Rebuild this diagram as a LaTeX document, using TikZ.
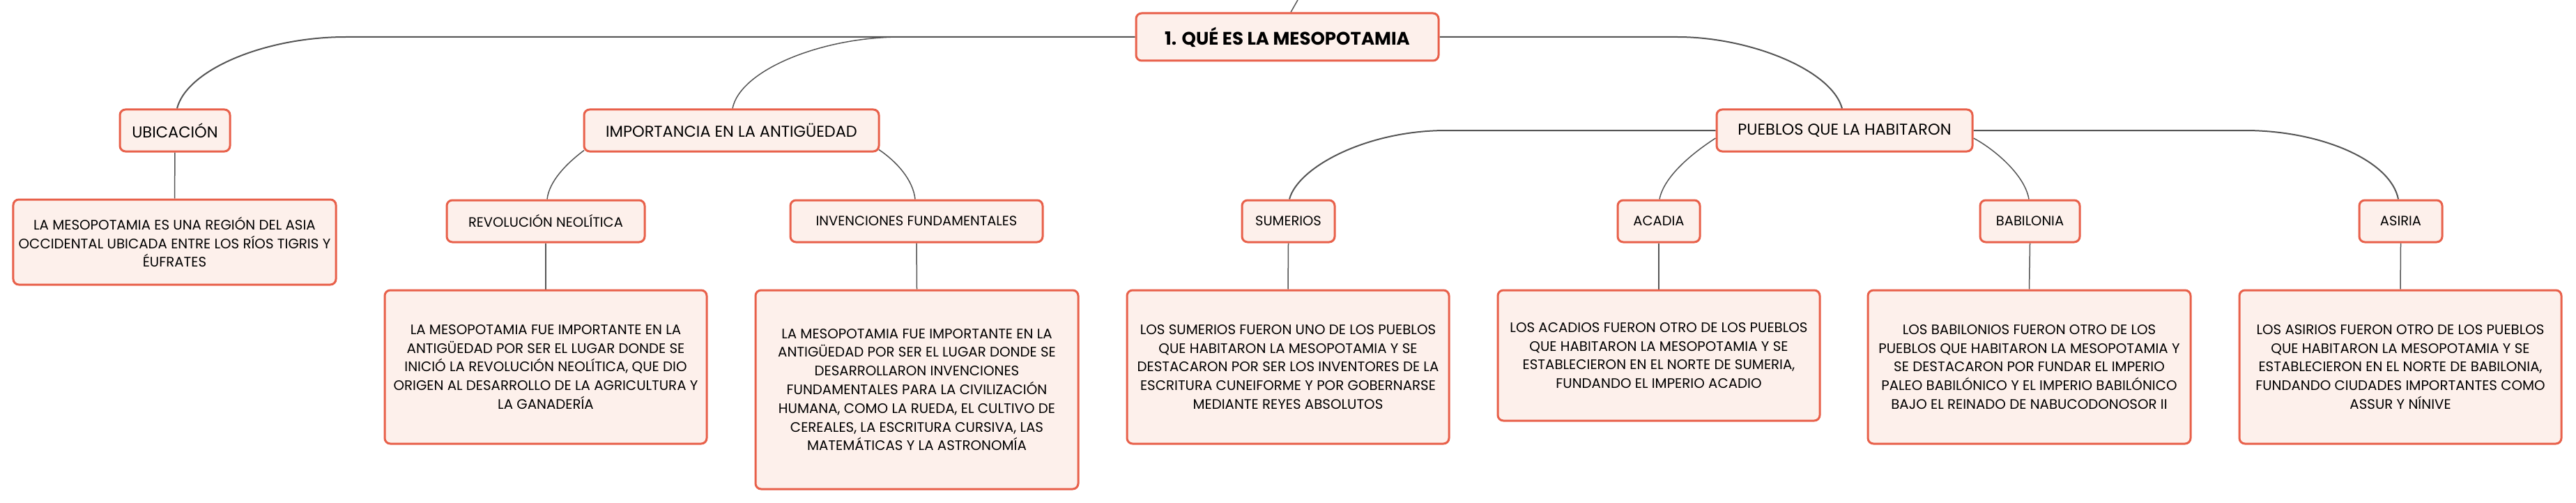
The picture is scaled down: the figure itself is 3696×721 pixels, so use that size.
\documentclass[tikz,border=0pt]{standalone}
\usepackage{fontspec}
\setmainfont{Poppins}
\usetikzlibrary{calc,backgrounds}
\definecolor{bordc}{HTML}{E8604A}
\definecolor{fillc}{HTML}{FDF0EB}
\definecolor{linec}{HTML}{555555}
\tikzset{
  box/.style={draw=bordc, fill=fillc, line width=3bp, rounded corners=8bp,
    align=center, inner sep=0pt, text=black,
    font=\fontsize{19.8bp}{26.8bp}\selectfont},
  lab/.style={box, minimum height=60bp, font=\fontsize{19.5bp}{24bp}\selectfont},
  labone/.style={lab, font=\fontsize{22.5bp}{26bp}\selectfont},
  detail/.style={box, minimum width=462bp},
  conn/.style={draw=linec, line width=1.5bp},
  trunk/.style={draw=linec, line width=2bp},
}
\begin{document}
\begin{tikzpicture}[x=1bp,y=-1bp]
\useasboundingbox (0,0) rectangle (3696,721);
% root
\node[box, minimum width=434bp, minimum height=68bp,
  font=\bfseries\fontsize{26bp}{30bp}\selectfont] (root) at (1847,53) {1. QUÉ ES LA MESOPOTAMIA};
% level 1
\node[labone, minimum width=158bp] (ubic) at (251,187) {UBICACIÓN};
\node[labone, minimum width=423bp] (impo) at (1049.5,187) {IMPORTANCIA EN LA ANTIGÜEDAD};
\node[labone, minimum width=367bp] (pueb) at (2646.5,187) {PUEBLOS QUE LA HABITARON};
% level 2
\node[lab, minimum width=284bp] (revo) at (783,317) {REVOLUCIÓN NEOLÍTICA};
\node[lab, minimum width=362bp] (inve) at (1315,317) {INVENCIONES FUNDAMENTALES};
\node[lab, minimum width=133bp] (sume) at (1848.5,317) {SUMERIOS};
\node[lab, minimum width=118bp] (acad) at (2380,317) {ACADIA};
\node[lab, minimum width=143bp] (babi) at (2912.5,317) {BABILONIA};
\node[lab, minimum width=119bp] (asir) at (3444.5,317) {ASIRIA};
% details
\node[detail, minimum width=463bp, minimum height=122bp] (ubicD) at (250.5,347)
  {LA MESOPOTAMIA ES UNA REGIÓN DEL ASIA\\OCCIDENTAL UBICADA ENTRE LOS RÍOS TIGRIS Y\\ÉUFRATES};
\node[detail, minimum height=220bp] (revoD) at (783,526)
  {LA MESOPOTAMIA FUE IMPORTANTE EN LA\\ANTIGÜEDAD POR SER EL LUGAR DONDE SE\\INICIÓ LA REVOLUCIÓN NEOLÍTICA, QUE DIO\\ORIGEN AL DESARROLLO DE LA AGRICULTURA Y\\LA GANADERÍA};
\node[detail, minimum width=463bp, minimum height=285bp] (inveD) at (1315.5,558.5)
  {LA MESOPOTAMIA FUE IMPORTANTE EN LA\\ANTIGÜEDAD POR SER EL LUGAR DONDE SE\\DESARROLLARON INVENCIONES\\FUNDAMENTALES PARA LA CIVILIZACIÓN\\HUMANA, COMO LA RUEDA, EL CULTIVO DE\\CEREALES, LA ESCRITURA CURSIVA, LAS\\MATEMÁTICAS Y LA ASTRONOMÍA};
\node[detail, minimum height=220bp] (sumeD) at (1848,526)
  {LOS SUMERIOS FUERON UNO DE LOS PUEBLOS\\QUE HABITARON LA MESOPOTAMIA Y SE\\DESTACARON POR SER LOS INVENTORES DE LA\\ESCRITURA CUNEIFORME Y POR GOBERNARSE\\MEDIANTE REYES ABSOLUTOS};
\node[detail, minimum height=187bp] (acadD) at (2380,509.5)
  {LOS ACADIOS FUERON OTRO DE LOS PUEBLOS\\QUE HABITARON LA MESOPOTAMIA Y SE\\ESTABLECIERON EN EL NORTE DE SUMERIA,\\FUNDANDO EL IMPERIO ACADIO};
\node[detail, minimum width=463bp, minimum height=220bp] (babiD) at (2911.5,526)
  {LOS BABILONIOS FUERON OTRO DE LOS\\PUEBLOS QUE HABITARON LA MESOPOTAMIA Y\\SE DESTACARON POR FUNDAR EL IMPERIO\\PALEO BABILÓNICO Y EL IMPERIO BABILÓNICO\\BAJO EL REINADO DE NABUCODONOSOR II};
\node[detail, minimum height=220bp] (asirD) at (3444,526)
  {LOS ASIRIOS FUERON OTRO DE LOS PUEBLOS\\QUE HABITARON LA MESOPOTAMIA Y SE\\ESTABLECIERON EN EL NORTE DE BABILONIA,\\FUNDANDO CIUDADES IMPORTANTES COMO\\ASSUR Y NÍNIVE};
% branch points
\coordinate (rin) at (1862,0);
\coordinate (bL1) at (496,53);
\coordinate (bL2) at (1292,53);
\coordinate (bR1) at (2407,53);
\coordinate (pL) at (2075,187);
\coordinate (pR) at (3221,187);
\begin{scope}[on background layer]
\draw[conn] ([xshift=5bp]root.north) -- (rin);
\draw[trunk] (root.west) -- (bL1) .. controls (380,53) and (268,100) .. ([xshift=3bp]ubic.north);
\draw[conn] (bL2) .. controls (1180,53) and (1062,100) .. ([xshift=1.5bp]impo.north);
\draw[trunk] (root.east) -- (bR1) .. controls (2510,53) and (2628,100) .. ([xshift=-3.5bp]pueb.north);
% importancia children
\draw[conn] ($(impo.south west)+(1.5,-3)$) .. controls (812,235) and (788,260) .. ([xshift=2bp]revo.north);
\draw[conn] ($(impo.south east)+(-1.5,-4)$) .. controls (1287,232) and (1310,258) .. ([xshift=-2bp]inve.north);
% pueblos children
\draw[trunk] (pueb.west) -- (pL) .. controls (1960,187) and (1862,240) .. ([xshift=1.5bp]sume.north);
\draw[conn] ($(pueb.west)+(0,11)$) .. controls (2435,215) and (2388,250) .. ([xshift=1bp]acad.north);
\draw[conn] ($(pueb.east)+(0,11)$) .. controls (2860,213) and (2905,250) .. ([xshift=-1.5bp]babi.north);
\draw[trunk] (pueb.east) -- (pR) .. controls (3330,187) and (3430,230) .. ([xshift=-3.5bp]asir.north);
% vertical links
\draw[conn] (ubic.south) -- (ubicD.north);
\draw[conn] (revo.south) -- (revoD.north);
\draw[conn] (inve.south) -- (inveD.north);
\draw[conn] (sume.south) -- (sumeD.north);
\draw[conn] (acad.south) -- (acadD.north);
\draw[conn] (babi.south) -- (babiD.north);
\draw[conn] (asir.south) -- (asirD.north);
\end{scope}
\end{tikzpicture}
\end{document}
